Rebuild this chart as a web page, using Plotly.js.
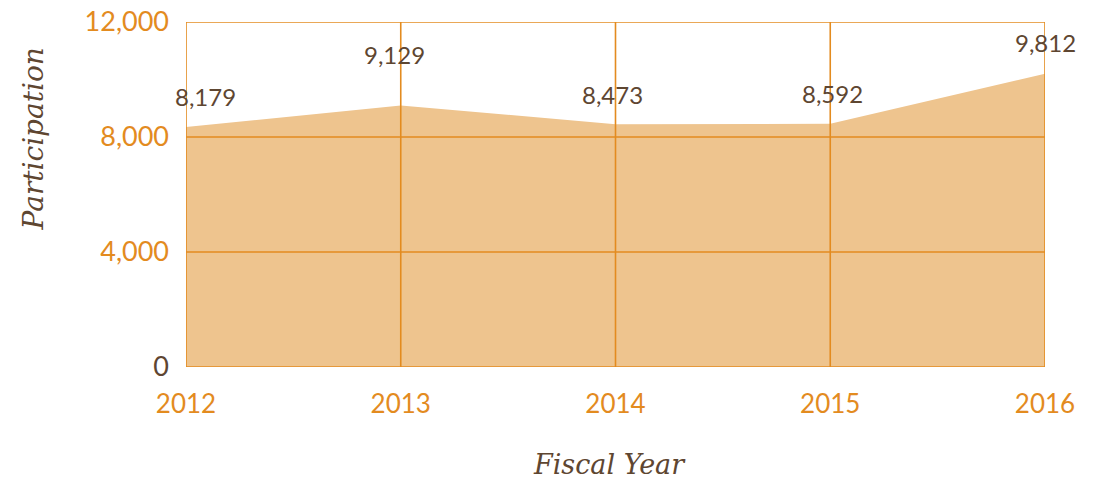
<!DOCTYPE html>
<html>
<head>
<meta charset="utf-8">
<script src="https://cdn.plot.ly/plotly-3.0.1.min.js"></script>
<style>html,body{margin:0;padding:0;background:#fff;}#chart{width:1098px;height:482px;}</style>
</head>
<body>
<div id="chart"></div>
<script>
// ---- data ----
const years = [2012, 2013, 2014, 2015, 2016];
const areaValues = [8345, 9100, 8440, 8460, 10200];
const labelTexts = ["8,179", "9,129", "8,473", "8,592", "9,812"];
const yTickVals = [0, 4000, 8000, 12000];
const yTickText = ["0", "4,000", "8,000", "12,000"];
const xTickText = ["2012", "2013", "2014", "2015", "2016"];

// ---- styles ----
const ORANGE = "#E38B1F";
const BROWN = "#5E4631";
const FILL = "#EEC48E";
const labelShift = [[19, 31], [-6, 51], [-3, 30], [2, 30], [0, 31]];

const trace = {
  type: "scatter",
  mode: "lines",
  x: years,
  y: areaValues,
  fill: "tozeroy",
  fillcolor: FILL,
  line: {color: FILL, width: 0},
  hoverinfo: "skip"
};

const shapes = [];
years.forEach(function (yr) {
  shapes.push({type: "line", layer: "above", xref: "x", yref: "paper", x0: yr, x1: yr, y0: 0, y1: 1,
    line: {color: ORANGE, width: 1.6}});
});
yTickVals.forEach(function (v) {
  shapes.push({type: "line", layer: "above", xref: "paper", yref: "y", x0: 0, x1: 1, y0: v, y1: v,
    line: {color: ORANGE, width: 1.6}});
});

const annotations = years.map(function (yr, i) {
  return {x: yr, y: areaValues[i], xref: "x", yref: "y", text: labelTexts[i], showarrow: false,
    xanchor: "center", yanchor: "middle", xshift: labelShift[i][0], yshift: labelShift[i][1],
    font: {family: "Lato, 'Open Sans', sans-serif", size: 24, color: BROWN}};
});
annotations.push({xref: "paper", yref: "paper", x: 0.493, y: -0.282, text: "Fiscal Year", showarrow: false,
  xanchor: "center", yanchor: "middle",
  font: {family: "'DejaVu Serif', serif", size: 27, color: BROWN, style: "italic"}});
annotations.push({xref: "paper", yref: "paper", x: -0.178, y: 0.66, text: "Participation", showarrow: false,
  textangle: -90, xanchor: "center", yanchor: "middle",
  font: {family: "'DejaVu Serif', serif", size: 28, color: BROWN, style: "italic"}});

const yTickHtml = yTickText.map(function (t, i) {
  return i === 0 ? '<span style="color:' + BROWN + '">' + t + '</span>' : t;
});

const layout = {
  width: 1098, height: 482,
  margin: {l: 186, r: 53, t: 22, b: 115},
  paper_bgcolor: "#ffffff", plot_bgcolor: "#ffffff",
  showlegend: false,
  xaxis: {
    range: [2012, 2016], tickvals: years, ticktext: xTickText, showgrid: false, zeroline: false,
    showline: false, ticks: "", ticklabelstandoff: 19,
    tickfont: {family: "Lato, 'Open Sans', sans-serif", size: 26, color: ORANGE}
  },
  yaxis: {
    range: [0, 12000], tickvals: yTickVals, ticktext: yTickHtml, showgrid: false, zeroline: false,
    showline: false, ticks: "", ticklabelstandoff: 16,
    tickfont: {family: "Lato, 'Open Sans', sans-serif", size: 27, color: ORANGE}
  },
  shapes: shapes,
  annotations: annotations
};

Plotly.newPlot("chart", [trace], layout, {staticPlot: true, displayModeBar: false});
</script>
</body>
</html>
